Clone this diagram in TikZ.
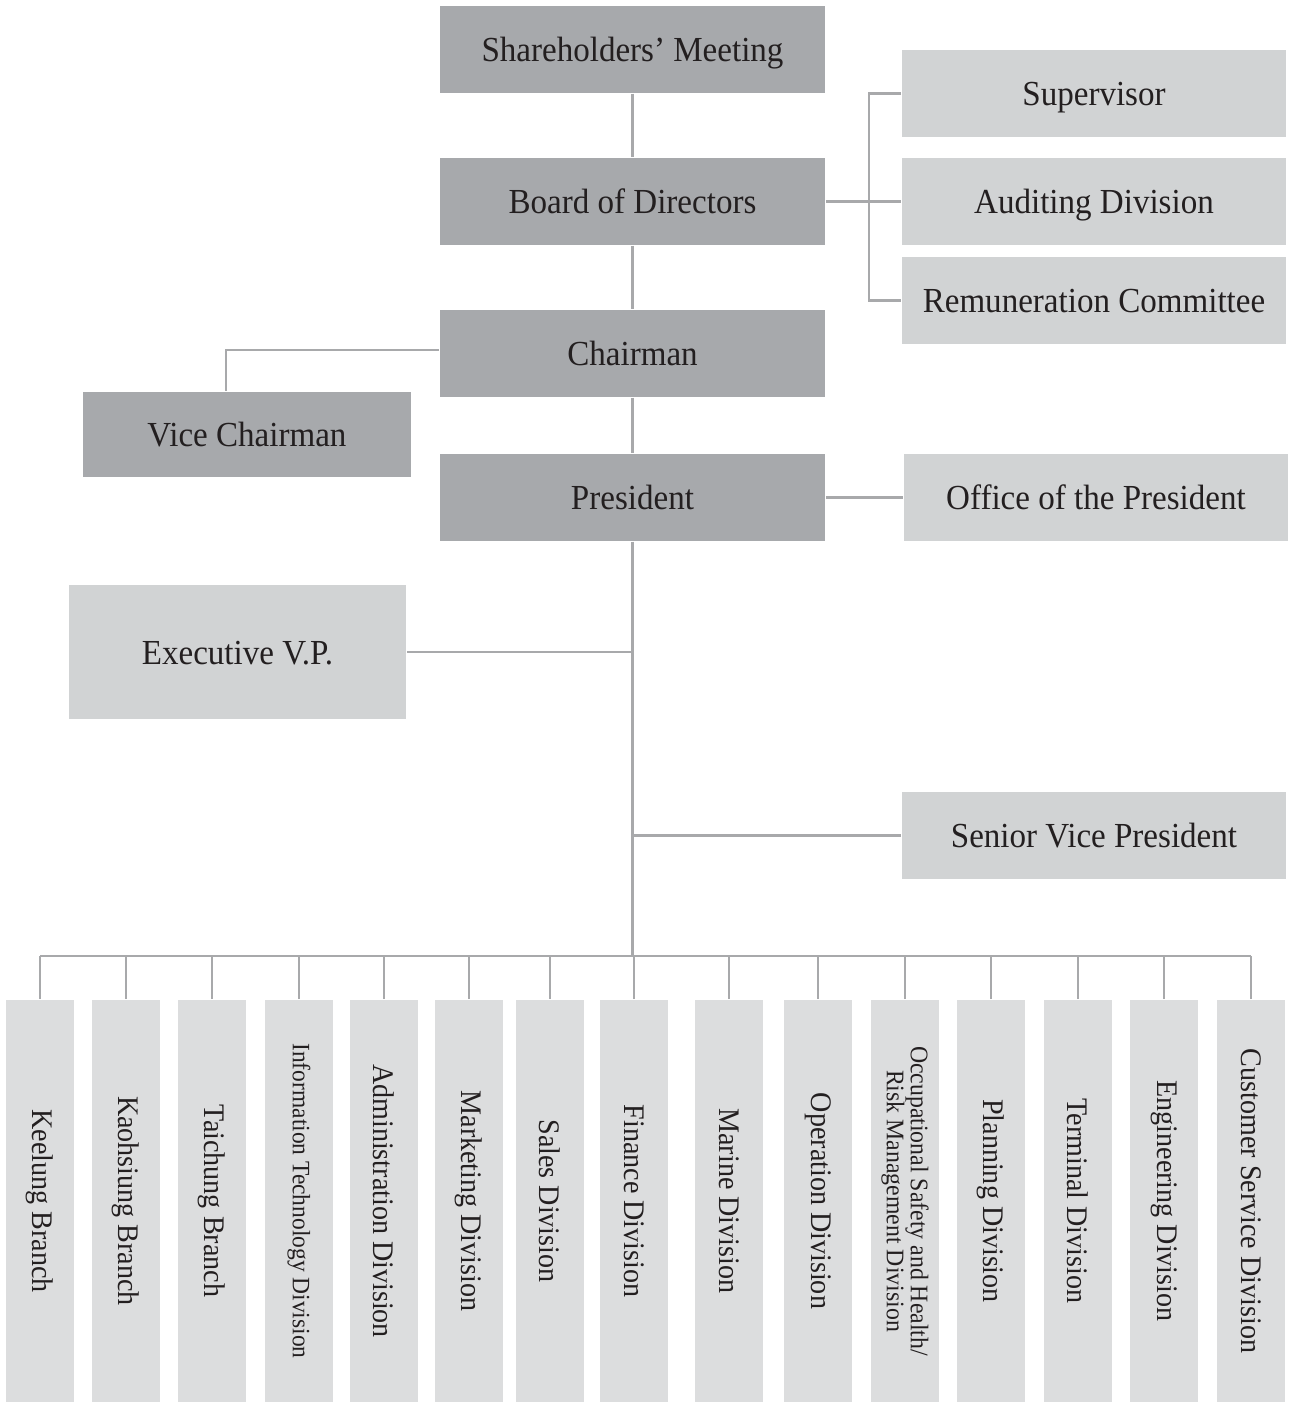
\documentclass[tikz,border=0pt]{standalone}
\usepackage{fontspec}
\setmainfont{Liberation Serif}[FakeStretch=0.94]
\usepackage{tikz}

\definecolor{darkbox}{HTML}{A7A9AC}
\definecolor{lightbox}{HTML}{D1D3D4}
\definecolor{unitbox}{HTML}{DCDDDE}
\definecolor{linkgray}{HTML}{A8A9AB}
\definecolor{txt}{HTML}{231F20}

\tikzset{
  head/.style={fill=darkbox, text=txt, inner sep=0pt, minimum width=3.85cm, minimum height=0.87cm, text height=6.9pt, text depth=0pt, font=\fontsize{10}{12}\selectfont},
  staff/.style={fill=lightbox, text=txt, inner sep=0pt, minimum width=3.84cm, minimum height=0.87cm, text height=6.9pt, text depth=0pt, font=\fontsize{10}{12}\selectfont},
  unit/.style={fill=unitbox, text=txt, inner sep=0pt, rotate=-90, minimum width=4.02cm, minimum height=0.68cm, font=\fontsize{8.5}{10}\selectfont},
  link/.style={draw=linkgray, line width=0.6pt}
}

\begin{document}
\begin{tikzpicture}[x=0.01cm, y=-0.01cm]
      \useasboundingbox (0, 0) rectangle (1289, 1403);
      % Top chain
      \node[head] (share) at (632.5, 49.5) {Shareholders’ Meeting};
      \node[head] (board) at (632.5, 201.5) {Board of Directors};
      \node[head] (chair) at (632.5, 353.5) {Chairman};
      \node[head] (pres) at (632.5, 497.5) {President};
      \node[head, minimum width=3.28cm, minimum height=0.85cm] (vice) at (247, 434.5) {Vice Chairman};
      % - under the board
      \node[staff] (sup) at (1094, 93.5) {Supervisor};
      \node[staff] (aud) at (1094, 201.5) {Auditing Division};
      \node[staff] (rem) at (1094, 300.5) {Remuneration Committee};
      % - around the president
      \node[staff] (office) at (1096, 497.5) {Office of the President};
      \node[staff, minimum width=3.37cm, minimum height=1.34cm] (evp) at (237.5, 652) {Executive V.P.};
      \node[staff] (svp) at (1094, 835.5) {Senior Vice President};

      % Units
      \node[unit] (u1) at (40, 1201) {Keelung Branch};
      \node[unit] (u2) at (126, 1201) {Kaohsiung Branch};
      \node[unit] (u3) at (212, 1201) {Taichung Branch};
      \node[unit, font=\fontsize{7.1}{8}\selectfont] (u4) at (299, 1201) {Information Technology Division};
      \node[unit] (u5) at (384, 1201) {Administration Division};
      \node[unit] (u6) at (469, 1201) {Marketing Division};
      \node[unit] (u7) at (550, 1201) {Sales Division};
      \node[unit] (u8) at (634, 1201) {Finance Division};
      \node[unit] (u9) at (729, 1201) {Marine Division};
      \node[unit] (u10) at (818, 1201) {Operation Division};
      \node[unit, align=center, font=\fontsize{7.2}{6.8}\selectfont] (u11) at (905, 1201) {Occupational Safety and Health/\\Risk Management Division};
      \node[unit] (u12) at (991, 1201) {Planning Division};
      \node[unit] (u13) at (1078, 1201) {Terminal Division};
      \node[unit] (u14) at (1164, 1201) {Engineering Division};
      \node[unit] (u15) at (1251, 1201) {Customer Service Division};

      % Links
      \coordinate (fork) at (869, 201.5);
      \coordinate (vicejoint) at (226, 350);
      \coordinate (bus) at (632.5, 956);
      \draw[link] (share) -- (board);
      \draw[link] (board) -- (chair);
      \draw[link] (chair) -- (pres);
      \draw[link] (pres) -- (bus);
      \draw[link] (board) -- (aud);
      \draw[link] (sup.west) -| (fork) |- (rem.west);
      \draw[link] (chair.west |- vicejoint) -- (vicejoint) -- (vicejoint |- vice.north);
      \draw[link] (pres) -- (office);
      \draw[link] (evp.east) -- (evp.east -| bus);
      \draw[link] (svp.west) -- (svp.west -| bus);
      % - bus
      \draw[link] (u1.west |- bus) -- (u15.west |- bus);
      \draw[link] (u1.west) -- (u1.west |- bus);
      \draw[link] (u2.west) -- (u2.west |- bus);
      \draw[link] (u3.west) -- (u3.west |- bus);
      \draw[link] (u4.west) -- (u4.west |- bus);
      \draw[link] (u5.west) -- (u5.west |- bus);
      \draw[link] (u6.west) -- (u6.west |- bus);
      \draw[link] (u7.west) -- (u7.west |- bus);
      \draw[link] (u8.west) -- (u8.west |- bus);
      \draw[link] (u9.west) -- (u9.west |- bus);
      \draw[link] (u10.west) -- (u10.west |- bus);
      \draw[link] (u11.west) -- (u11.west |- bus);
      \draw[link] (u12.west) -- (u12.west |- bus);
      \draw[link] (u13.west) -- (u13.west |- bus);
      \draw[link] (u14.west) -- (u14.west |- bus);
      \draw[link] (u15.west) -- (u15.west |- bus);
\end{tikzpicture}
\end{document}
